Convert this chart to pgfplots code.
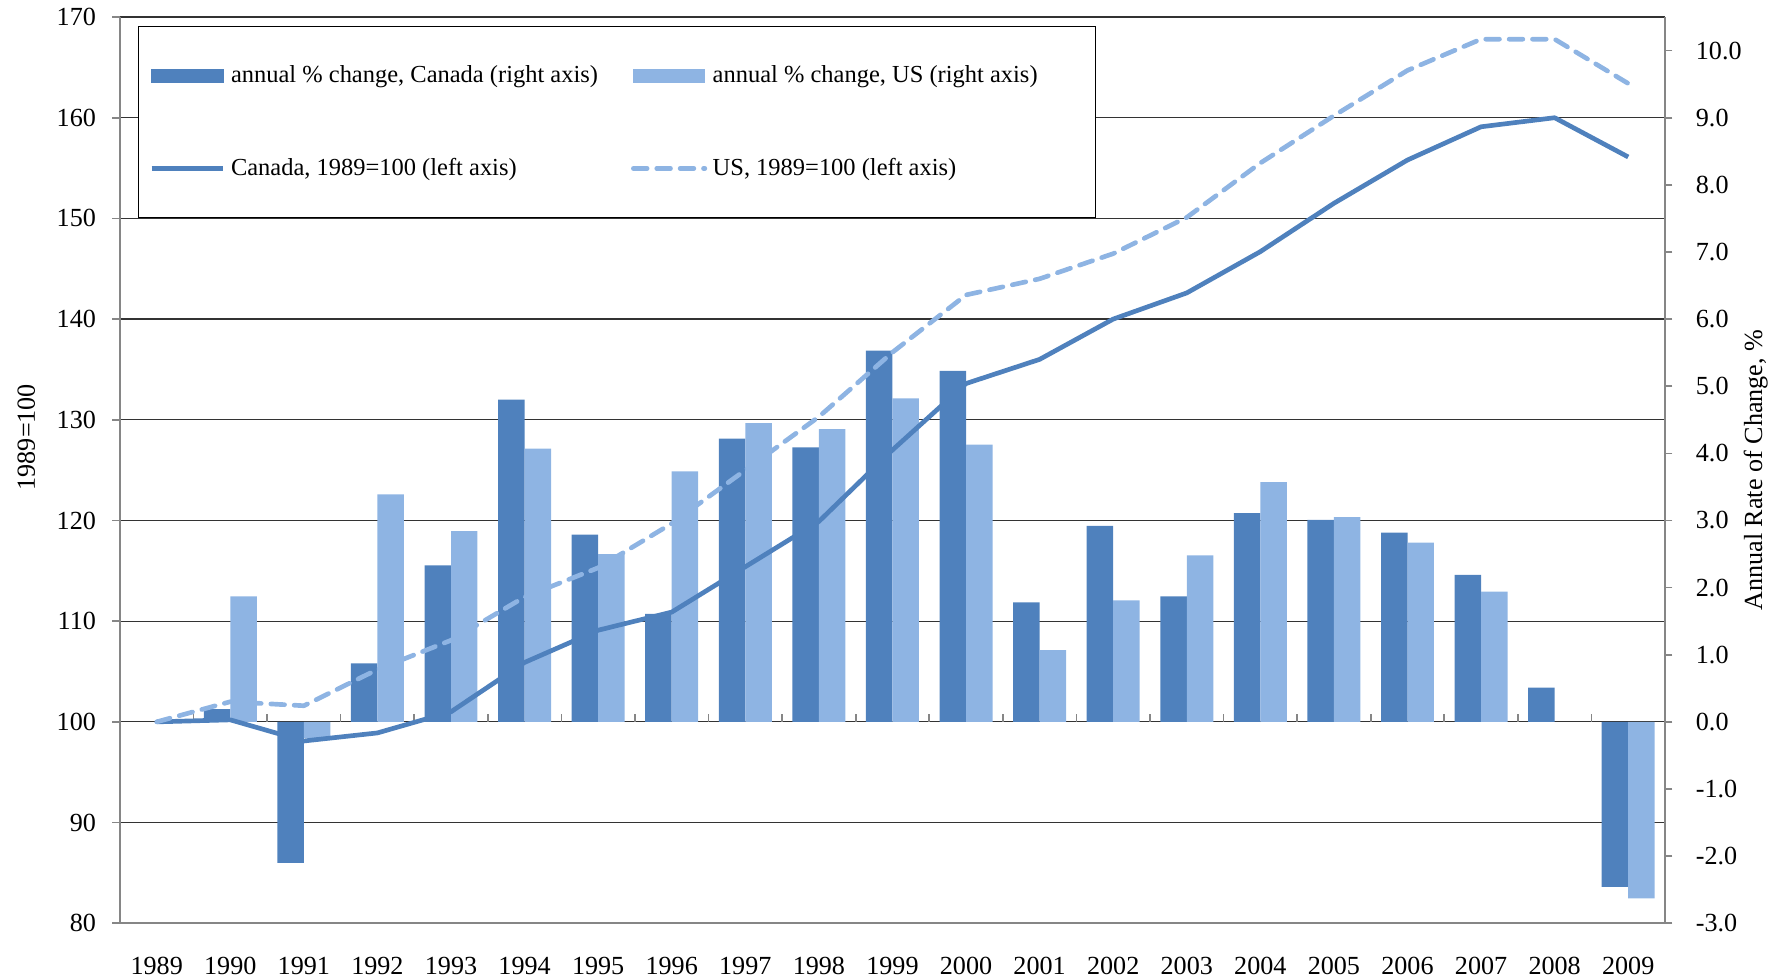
\documentclass[border=0pt]{standalone}
\usepackage{fontspec}
\setmainfont{Liberation Serif}
\usepackage{pgfplots}
\pgfplotsset{compat=1.18}

\definecolor{cadark}{HTML}{4F81BD}
\definecolor{uslight}{HTML}{8EB4E3}
\definecolor{axisgray}{HTML}{868686}

\pgfplotsset{
  base/.style={scale only axis, width=561.8pt, height=329.5pt,
    xmin=-0.5, xmax=20.5,
    /pgf/number format/assume math mode=true},
  lineleg/.style={legend image code/.code={\draw[##1, line width=1.7pt] (0pt,0pt) -- (26pt,0pt);}},
}

\begin{document}
\begin{tikzpicture}[font=\fontsize{9.5}{11.4}\selectfont]

% left scale: grid, left ticks, year labels
\begin{axis}[base, name=ax,
  ymin=80, ymax=170, ytick={80,90,...,170},
  axis x line*=bottom, axis y line*=left,
  axis line style={axisgray, line width=0.8pt},
  ymajorgrids, grid style={black!80, line width=0.45pt},
  xtick={0,...,20},
  xticklabels={1989,1990,1991,1992,1993,1994,1995,1996,1997,1998,1999,
    2000,2001,2002,2003,2004,2005,2006,2007,2008,2009},
  x tick style={draw=none},
  xticklabel style={yshift=-6pt},
  y tick style={axisgray, line width=0.6pt},
  tick align=outside, major tick length=2.7pt,
  yticklabel style={xshift=-2.5pt},
  ylabel={1989=100},
  % label is rotated: xshift moves it up, yshift moves it left
  ylabel style={at={(axis description cs:0,0.5)}, anchor=center, yshift=34pt, xshift=12pt},
]
\end{axis}

% right scale: annual change bars
\begin{axis}[base,
  ymin=-3, ymax=10.5, ytick={-3,-2,...,10},
  axis x line=none, axis y line*=right,
  axis line style={axisgray, line width=0.8pt},
  y tick style={axisgray, line width=0.6pt},
  tick align=outside, major tick length=2.7pt,
  yticklabel style={/pgf/number format/.cd, fixed, fixed zerofill, precision=1,
    /tikz/.cd, xshift=5pt},
  ylabel={Annual Rate of Change, \%},
  ylabel style={at={(axis description cs:1,0.5)}, anchor=center, yshift=-33pt},
]
\addplot[ybar, bar width=0.36, bar shift=-0.18, fill=cadark, draw=none] coordinates {
  (1,0.19) (2,-2.10) (3,0.87) (4,2.33) (5,4.80) (6,2.79) (7,1.61)
  (8,4.22) (9,4.09) (10,5.53) (11,5.23) (12,1.78) (13,2.92) (14,1.87)
  (15,3.11) (16,3.01) (17,2.82) (18,2.19) (19,0.51) (20,-2.46)
};
\addplot[ybar, bar width=0.36, bar shift=0.18, fill=uslight, draw=none] coordinates {
  (1,1.87) (2,-0.24) (3,3.39) (4,2.84) (5,4.07) (6,2.50) (7,3.73)
  (8,4.45) (9,4.36) (10,4.82) (11,4.13) (12,1.07) (13,1.81) (14,2.48)
  (15,3.57) (16,3.05) (17,2.67) (18,1.94) (20,-2.63)
};
% category ticks on the zero line
\pgfplotsinvokeforeach{0.5,1.5,...,19.5}{
  \draw[axisgray, line width=0.6pt] (axis cs:#1,0) -- ++(0pt,2.8pt);
}
\end{axis}

% left scale: index lines and legend
\begin{axis}[base,
  ymin=80, ymax=170, hide axis,
  legend columns=2,
  legend style={at={(axis description cs:0,1)}, anchor=north west,
    xshift=6.5pt, yshift=-3.3pt,
    draw=black,
    inner xsep=4pt, inner ysep=12pt, row sep=22pt,
    /tikz/every even column/.append style={column sep=10pt},
    font=\fontsize{8.9}{10.7}\selectfont},
  legend cell align=left,
]
\addlegendimage{legend image code/.code={\fill[cadark] (0pt,-2.3pt) rectangle (26pt,2.3pt);}}
\addlegendentry{annual \% change, Canada (right axis)}
\addlegendimage{legend image code/.code={\fill[uslight] (0pt,-2.3pt) rectangle (26pt,2.3pt);}}
\addlegendentry{annual \% change, US (right axis)\hspace*{15pt}\hbox{}}
\addplot[lineleg, cadark, line width=1.7pt, line join=round] coordinates {
  (0,100) (1,100.2) (2,98.1) (3,98.9) (4,101.0) (5,105.9) (6,109.1)
  (7,110.9) (8,115.4) (9,119.9) (10,127.0) (11,133.6) (12,136.0)
  (13,140.0) (14,142.6) (15,146.7) (16,151.5) (17,155.8) (18,159.1)
  (19,160.0) (20,156.1)
};
\addlegendentry{Canada, 1989=100 (left axis)}
\addplot[lineleg, uslight, line width=1.7pt, line cap=round, line join=round,
  dash pattern=on 5pt off 3.5pt] coordinates {
  (0,100) (1,102.0) (2,101.6) (3,105.2) (4,108.1) (5,112.4) (6,115.3)
  (7,119.7) (8,125.0) (9,130.3) (10,136.7) (11,142.4) (12,144.0)
  (13,146.5) (14,150.1) (15,155.5) (16,160.2) (17,164.7) (18,167.8)
  (19,167.8) (20,163.4)
};
\addlegendentry{US, 1989=100 (left axis)}
\end{axis}

\pgfresetboundingbox
\useasboundingbox ([xshift=-43.6pt,yshift=-20.4pt]ax.south west)
  rectangle ([xshift=44pt,yshift=6.2pt]ax.north east);
\end{tikzpicture}
\end{document}
